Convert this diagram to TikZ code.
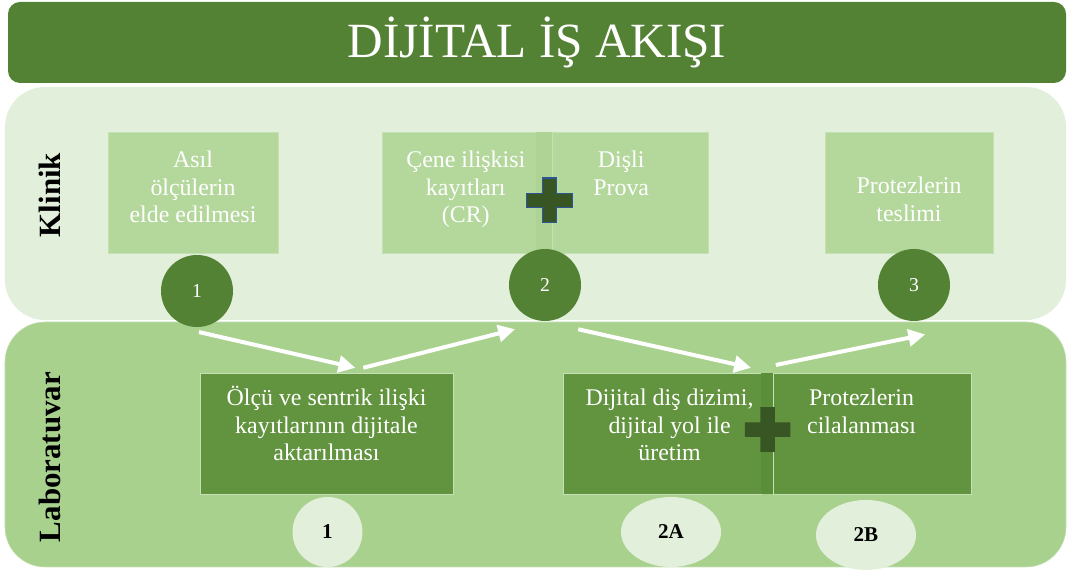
\documentclass[tikz,border=0pt]{standalone}
\usepackage{fontspec}
\setmainfont{Liberation Serif}
\usetikzlibrary{arrows.meta, positioning, calc, shapes.geometric}
\definecolor{titlegreen}{HTML}{548235}
\definecolor{klinikbg}{HTML}{E2EFDA}
\definecolor{labbg}{HTML}{A9D18E}
\definecolor{labedge}{HTML}{C5E0B4}
\definecolor{kboxfill}{HTML}{B4D79B}
\definecolor{kstripfill}{HTML}{AED395}
\definecolor{lboxfill}{HTML}{62933F}
\definecolor{lstripfill}{HTML}{5B8E39}
\definecolor{plusgreen}{HTML}{375623}
\definecolor{plusblue}{HTML}{2F5597}
\tikzset{
    flow/.style={>={Triangle[length=0.42cm, width=0.42cm]}, font=\fontsize{17}{19.5}\selectfont},
    titlebar/.style={fill=titlegreen, rounded corners=0.3cm, minimum width=26.45cm, minimum height=2.025cm, text=white, font=\fontsize{35}{40}\selectfont},
    panel/.style={rounded corners=1cm, minimum width=26.525cm, inner sep=0pt, outer sep=0pt},
    sidelabel/.style={rotate=90, font=\fontsize{22}{26}\selectfont\bfseries},
    kbox/.style={fill=kboxfill, draw=labedge, line width=0.4pt, minimum height=3.025cm, inner sep=0pt, outer sep=0pt},
    kstrip/.style={kbox, fill=kstripfill, draw=none, minimum width=0.4cm},
    lbox/.style={fill=lboxfill, draw=labedge, line width=0.6pt, minimum height=3.025cm, inner sep=0pt, outer sep=0pt},
    lstrip/.style={lbox, fill=lstripfill, draw=none, minimum width=0.3cm},
    boxtext/.style={align=center, text=white, inner sep=0pt},
    numcircle/.style={circle, fill=titlegreen, minimum size=1.8cm, inner sep=0pt, text=white, font=\fontsize{14}{16}\selectfont},
    numoval/.style={ellipse, fill=klinikbg, minimum width=2.5cm, minimum height=1.75cm, inner sep=0pt, font=\fontsize{15}{17}\selectfont\bfseries},
    flowarrow/.style={->, white, line width=0.1cm},
}
% plus sign between two steps
\newcommand{\crossmark}[2]{%
    \path[#2, shift={#1}] (-0.18,0.56) -- (0.18,0.56) -- (0.18,0.18) -- (0.57,0.18) -- (0.57,-0.18)
        -- (0.18,-0.18) -- (0.18,-0.56) -- (-0.18,-0.56) -- (-0.18,-0.18) -- (-0.57,-0.18)
        -- (-0.57,0.18) -- (-0.18,0.18) -- cycle;}

\begin{document}
\begin{tikzpicture}[flow]
    \useasboundingbox (0,0) rectangle (26.775,14.3);

    \node[titlebar]                              (title)  at (13.425,13.2375) {DİJİTAL İŞ AKIŞI};
    \node[panel, fill=klinikbg, minimum height=5.825cm]             (klinik) at (13.3875,9.2125) {};
    \node[panel, fill=labbg, draw=labedge, minimum height=6.125cm]  (lab)    at (13.3875,3.1875) {};
    \node[sidelabel]                             (klinikname) at (1.25,9.425) {Klinik};
    \node[sidelabel]                             (labname)    at (1.25,2.875) {Laboratuvar};

    % klinik steps
    \node[kbox, minimum width=4.25cm]            (asil)    at (4.825,9.4875) {};
    \node[kbox, minimum width=3.85cm]            (cene)    at (11.475,9.4875) {};
    \node[kstrip, right=0pt of cene]             (kstrip)  {};
    \node[kbox, minimum width=3.9cm, right=0pt of kstrip] (prova) {};
    \node[kbox, minimum width=4.2cm]             (teslim)  at (22.725,9.4875) {};

    \node[boxtext, below=0.47cm of asil.north]                          (asiltext)   {Asıl\\ölçülerin\\elde edilmesi};
    \node[boxtext, below=0.47cm of cene.north, xshift=0.17cm]           (cenetext)   {Çene ilişkisi\\kayıtları\\(CR)};
    \node[boxtext, anchor=north, xshift=-0.22cm] at (cenetext.north -| prova) (provatext) {Dişli\\Prova};
    \node[boxtext, below=1.12cm of teslim.north]                        (teslimtext) {Protezlerin\\teslimi};
    \crossmark{(13.74,9.29)}{fill=plusgreen, draw=plusblue, line width=0.8pt}

    \node[numcircle] (k1) at (4.925,7.025) {1};
    \node[numcircle] (k2) at (13.625,7.175) {2};
    \node[numcircle] (k3) at (22.85,7.175) {3};

    % laboratuvar steps
    \node[lbox, minimum width=6.325cm]           (aktar)   at (8.1625,3.4625) {};
    \node[lbox, minimum width=4.95cm]            (dizim)   at (16.55,3.4625) {};
    \node[lstrip, right=0pt of dizim]            (lstrip)  {};
    \node[lbox, minimum width=4.95cm, right=0pt of lstrip] (cila) {};

    \node[boxtext, below=0.33cm of aktar.north]                 (aktartext) {Ölçü ve sentrik ilişki\\kayıtlarının dijitale\\aktarılması};
    \node[boxtext, below=0.4cm of dizim.north, xshift=0.19cm]   (dizimtext) {Dijital diş dizimi,\\dijital yol ile\\üretim};
    \node[boxtext, below=0.4cm of cila.north, xshift=-0.26cm]   (cilatext)  {Protezlerin\\cilalanması};
    \crossmark{(19.19,3.56)}{fill=plusgreen}

    \node[numoval, minimum width=1.75cm] (l1)  at (8.1875,1.0) {1};
    \node[numoval]                       (l2a) at (16.775,1.0) {2A};
    \node[numoval]                       (l2b) at (21.65,0.925) {2B};

    % flow between klinik and laboratuvar
    \coordinate (a1) at ($(k1.south)+(0.05,-0.12)$);
    \coordinate (b1) at ($(aktar.north)+(0.72,0.13)$);
    \coordinate (a2) at ($(aktar.north)+(0.92,0.13)$);
    \coordinate (b2) at ($(k2.south)+(-0.75,-0.2)$);
    \coordinate (a3) at ($(k2.south)+(0.83,-0.2)$);
    \coordinate (b3) at ($(lstrip.north)+(-0.4,0.13)$);
    \coordinate (a4) at ($(lstrip.north)+(0.22,0.2)$);
    \coordinate (b4) at ($(k3.south)+(0.28,-0.33)$);
    \draw[flowarrow] (a1) -- (b1);
    \draw[flowarrow] (a2) -- (b2);
    \draw[flowarrow] (a3) -- (b3);
    \draw[flowarrow] (a4) -- (b4);
\end{tikzpicture}
\end{document}
